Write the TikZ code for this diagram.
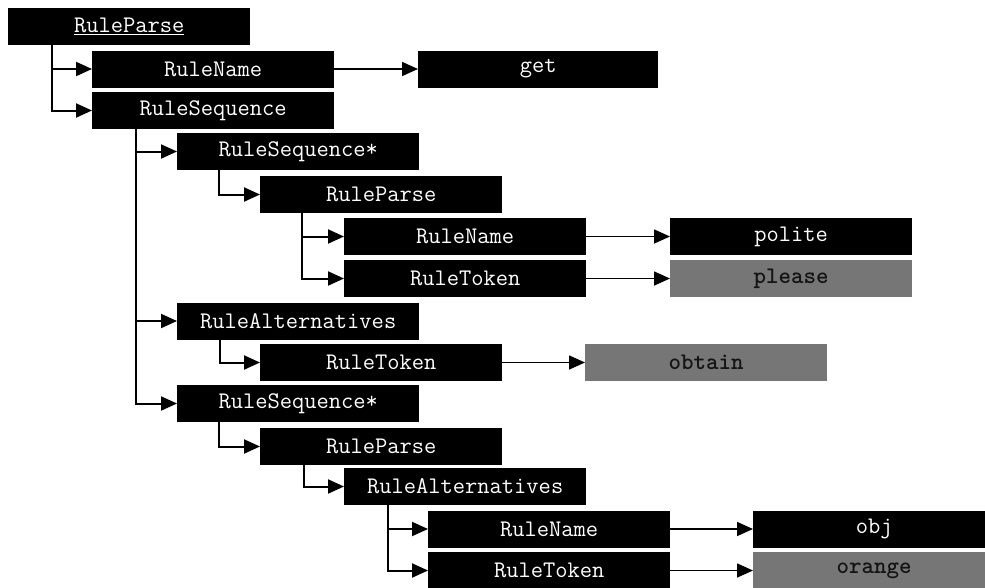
\documentclass[tikz,border=0pt]{standalone}
\usepackage{fontspec}
\usetikzlibrary{arrows.meta,calc}
\begin{document}
\begin{tikzpicture}[x=1pt,y=-1pt,
  rbox/.style={fill=black,text=white,minimum width=242pt,minimum height=37pt,inner sep=0pt,anchor=west,
    font=\fontsize{23.8}{26}\selectfont\ttfamily},
  gbox/.style={rbox,fill={rgb,255:red,118;green,118;blue,118},text={rgb,255:red,20;green,20;blue,20},
    font=\fontsize{23.8}{26}\selectfont\ttfamily\bfseries},
  arr/.style={line width=2pt,-{Triangle[length=16pt,width=14pt]}},
  arrh/.style={line width=1.6pt,-{Triangle[length=16pt,width=14pt]}}]
\useasboundingbox (0,0) rectangle (985,587);
\clip (0,0) rectangle (985,587);
% tree nodes
\node[rbox] (r0)  at (8,26.5)   {\underline{RuleParse}};
\node[rbox] (n1)  at (92,69)    {RuleName};
\node[rbox] (s1)  at (92,110.5) {RuleSequence};
\node[rbox] (q1)  at (177,151.5){RuleSequence*};
\node[rbox] (p2)  at (260,194.5){RuleParse};
\node[rbox] (n2)  at (344,236.5){RuleName};
\node[rbox] (t2)  at (344,278.5){RuleToken};
\node[rbox] (a1)  at (177,321)  {RuleAlternatives};
\node[rbox] (t3)  at (260,362.5){RuleToken};
\node[rbox] (q2)  at (177,403.5){RuleSequence*};
\node[rbox] (p3)  at (260,446.5){RuleParse};
\node[rbox] (a2)  at (344,486.5){RuleAlternatives};
\node[rbox] (n4)  at (428,529)  {RuleName};
\node[rbox] (t4)  at (428,570.5){RuleToken};
% leaves
\node[rbox,minimum width=240pt] (get)    at (418,69)   {get};
\node[rbox] (polite) at (670,236.5){polite};
\node[gbox] (please) at (670,278.5){please};
\node[gbox] (obtain) at (585,362.5){obtain};
\node[rbox] (obj)    at (753,529)  {obj};
\node[gbox] (orange) at (753,570.5){orange};
% tree connectors
\draw[arr] ($(r0.south west)+(44,0)$) |- (n1.west);
\draw[arr] ($(r0.south west)+(44,0)$) |- (s1.west);
\draw[arr] ($(s1.south west)+(44,0)$) |- (q1.west);
\draw[arr] ($(s1.south west)+(44,0)$) |- (a1.west);
\draw[arr] ($(s1.south west)+(44,0)$) |- (q2.west);
\draw[arr] ($(q1.south west)+(42,0)$) |- (p2.west);
\draw[arr] ($(p2.south west)+(42,0)$) |- (n2.west);
\draw[arr] ($(p2.south west)+(42,0)$) |- (t2.west);
\draw[arr] ($(a1.south west)+(43,0)$) |- (t3.west);
\draw[arr] ($(q2.south west)+(42,0)$) |- (p3.west);
\draw[arr] ($(p3.south west)+(44,0)$) |- (a2.west);
\draw[arr] ($(a2.south west)+(44,0)$) |- (n4.west);
\draw[arr] ($(a2.south west)+(44,0)$) |- (t4.west);
% leaf connectors
\draw[arrh] (n1.east) -- (get.west);
\draw[arrh] (n2.east) -- (polite.west);
\draw[arrh] (t2.east) -- (please.west);
\draw[arrh] (t3.east) -- (obtain.west);
\draw[arrh] (n4.east) -- (obj.west);
\draw[arrh] (t4.east) -- (orange.west);
\end{tikzpicture}
\end{document}
